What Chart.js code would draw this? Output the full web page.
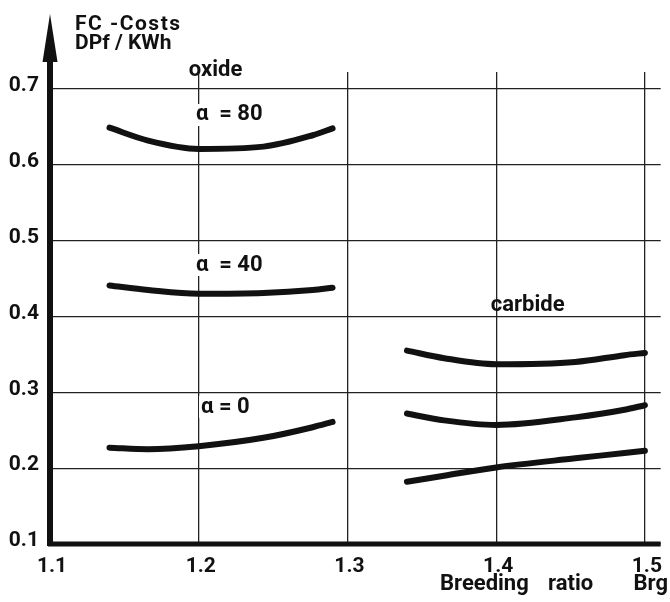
<!DOCTYPE html>
<html>
<head>
<meta charset="utf-8">
<script src="https://cdn.jsdelivr.net/npm/chart.js@4"></script>
<style>
  html, body { margin: 0; padding: 0; background: #fff; }
  #wrap { width: 670px; height: 602px; }
</style>
</head>
<body>
<div id="wrap"><canvas id="costChart" width="670" height="602"></canvas></div>
<script>
// breeding ratio values where the curves were read
const oxideX = [1.14, 1.166, 1.2, 1.2435, 1.2766, 1.29];
const alpha80 = [0.649, 0.632, 0.621, 0.624, 0.639, 0.648];
const alpha40 = [0.441, 0.435, 0.430, 0.431, 0.435, 0.438];
const alpha0 = [0.227, 0.225, 0.229, 0.240, 0.254, 0.261];

const carbideX = [1.34, 1.365, 1.40, 1.4532, 1.4863, 1.50];
const carbideHigh = [0.355, 0.345, 0.337, 0.340, 0.349, 0.352];
const carbideMid = [0.272, 0.263, 0.257, 0.267, 0.277, 0.283];
const carbideLow = [0.182, 0.190, 0.201, 0.213, 0.220, 0.223];

const xTicks = [1.1, 1.2, 1.3, 1.4, 1.5];
const yTicks = [0.1, 0.2, 0.3, 0.4, 0.5, 0.6, 0.7];

const FONT = "Roboto, 'DejaVu Sans', sans-serif";

const toPoints = (xs, ys) => xs.map((x, i) => ({ x: x, y: ys[i] }));

const curve = (label, xs, ys) => ({
  label: label,
  data: toPoints(xs, ys),
  borderColor: "#111",
  borderWidth: 6,
  borderCapStyle: "round",
  borderJoinStyle: "round",
  pointRadius: 0,
  cubicInterpolationMode: "monotone",
  fill: false,
});

// thick axes, arrow and the handwritten labels
const sketchPlugin = {
  id: "sketch",
  afterDraw(chart) {
    const { ctx, chartArea, scales } = chart;
    const x = scales.x, y = scales.y;
    const left = chartArea.left, bottom = chartArea.bottom;

    ctx.save();
    ctx.fillStyle = "#111";
    ctx.strokeStyle = "#111";

    // x axis
    ctx.lineWidth = 5;
    ctx.beginPath();
    ctx.moveTo(left - 2, bottom);
    ctx.lineTo(chartArea.right, bottom);
    ctx.stroke();

    // y axis with arrow
    ctx.lineWidth = 6;
    ctx.beginPath();
    ctx.moveTo(left, bottom + 2);
    ctx.lineTo(left, 50);
    ctx.stroke();
    ctx.beginPath();
    ctx.moveTo(left, 14);
    ctx.lineTo(left + 7.5, 62);
    ctx.lineTo(left - 7.5, 62);
    ctx.closePath();
    ctx.fill();

    const label = (text, vx, vy, size, bg) => {
      ctx.font = "bold " + size + "px " + FONT;
      ctx.textAlign = "center";
      ctx.textBaseline = "middle";
      const px = x.getPixelForValue(vx), py = y.getPixelForValue(vy);
      if (bg) {
        const w = ctx.measureText(text).width;
        ctx.fillStyle = "#fff";
        ctx.fillRect(px - w / 2 - 2, py - size / 2, w + 4, size);
      }
      ctx.fillStyle = "#111";
      ctx.fillText(text, px, py);
    };

    label("oxide", 1.2113, 0.725, 22, false);
    label("α  = 80", 1.2205, 0.6657, 22, true);
    label("α  = 40", 1.2205, 0.4679, 22, true);
    label("α = 0", 1.2179, 0.2806, 22, true);
    label("carbide", 1.4212, 0.4145, 22, false);

    // unit text above the arrow
    ctx.font = "bold 21px " + FONT;
    ctx.textAlign = "left";
    ctx.textBaseline = "middle";
    ctx.fillStyle = "#111";
    ctx.letterSpacing = "1.5px";
    ctx.fillText("FC -Costs", 75, 25);
    ctx.letterSpacing = "0px";
    ctx.fillText("DPf / KWh", 75, 44);

    // axis title
    ctx.font = "bold 22px " + FONT;
    ctx.textBaseline = "middle";
    ctx.textAlign = "left";
    ctx.fillText("Breeding", 440, 584);
    ctx.fillText("ratio", 548, 584);
    ctx.textAlign = "right";
    ctx.fillText("Brg", 668, 584);
    ctx.restore();
  },
};

new Chart(document.getElementById("costChart"), {
  type: "line",
  data: {
    datasets: [
      curve("oxide α = 80", oxideX, alpha80),
      curve("oxide α = 40", oxideX, alpha40),
      curve("oxide α = 0", oxideX, alpha0),
      curve("carbide high", carbideX, carbideHigh),
      curve("carbide mid", carbideX, carbideMid),
      curve("carbide low", carbideX, carbideLow),
    ],
  },
  options: {
    responsive: false,
    animation: false,
    devicePixelRatio: 1,
    layout: { padding: { top: 72, right: 0, left: 0, bottom: 0 } },
    plugins: {
      legend: { display: false },
      tooltip: { enabled: false },
    },
    scales: {
      x: {
        type: "linear",
        min: 1.1,
        max: 1.5106,
        afterBuildTicks: (s) => { s.ticks = xTicks.map((v) => ({ value: v })); },
        afterFit: (s) => { s.height = 58; },
        border: { display: false },
        grid: { color: "#222", lineWidth: 1.3, drawTicks: false },
        ticks: {
          color: "#111",
          padding: 10,
          labelOffset: 2,
          maxRotation: 0,
          font: { family: FONT, size: 21, weight: "bold" },
          callback: (v) => v.toFixed(1),
        },
      },
      y: {
        min: 0.1,
        max: 0.7224,
        afterBuildTicks: (s) => { s.ticks = yTicks.map((v) => ({ value: v })); },
        afterFit: (s) => { s.width = 50; },
        border: { display: false },
        grid: { color: "#222", lineWidth: 1.3, drawTicks: false },
        ticks: {
          color: "#111",
          padding: 11,
          labelOffset: -3,
          font: { family: FONT, size: 21, weight: "bold" },
          callback: (v) => v.toFixed(1),
        },
      },
    },
  },
  plugins: [sketchPlugin],
});
</script>
</body>
</html>
